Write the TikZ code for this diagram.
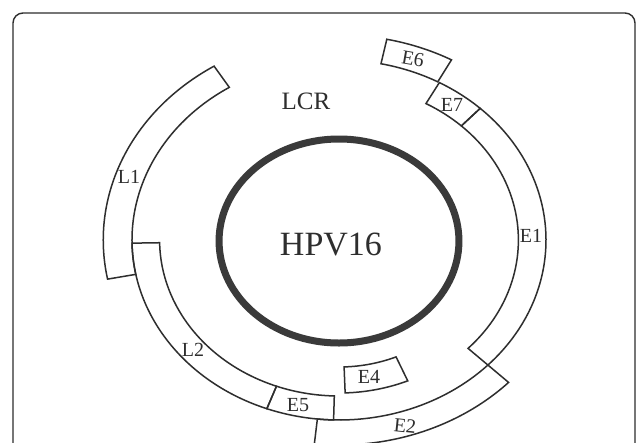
\documentclass[tikz,border=0pt]{standalone}
\usepackage{fontspec}
\setmainfont{Liberation Serif}
\definecolor{ink}{HTML}{2E2E2E}
\definecolor{ringdark}{HTML}{3A3A3A}
\newcommand\bandseg[4]{\draw[band] (#1:#3) arc[start angle=#1,end angle=#2,radius=#3] -- (#2:#4) arc[start angle=#2,end angle=#1,radius=#4] -- cycle;}
\begin{document}
\begin{tikzpicture}[x=1pt,y=1pt,
  band/.style={draw=ink,line width=1.5pt,line join=miter},
  lbl/.style={inner sep=0pt,text=ink,font=\fontsize{20}{20}\selectfont},
]
\useasboundingbox (0,0) rectangle (636,-442);
\clip (0,0) rectangle (636,-442);
\fill[white] (0,0) rectangle (636,-442);
\draw[ink,line width=1.4pt,rounded corners=10pt] (13,-13) rectangle (635,-480);
\begin{scope}[shift={(339,-240)},xscale=1.15]
  \def\rIn{156}\def\rMid{180}\def\rOut{205}
  \bandseg{122}{191}{\rMid}{\rOut}   % L1
  \bandseg{181}{249.6}{\rIn}{\rMid}  % L2
  \bandseg{249.6}{268.5}{\rIn}{\rMid}% E5
  \bandseg{264}{316}{\rMid}{\rOut}   % E2
  \bandseg{-44}{47}{\rIn}{\rMid}     % E1
  \bandseg{47}{61}{\rIn}{\rMid}      % E7
  \bandseg{61.5}{78.3}{\rMid}{\rOut} % E6
  \bandseg{272}{293}{127}{153}       % E4
  \draw[ringdark,line width=7pt] (0,-1) ellipse[x radius=104.3, y radius=102];
\end{scope}
\node[lbl,font=\fontsize{25}{25}\selectfont] (lcr) at (306,-101) {LCR};
\node[lbl,font=\fontsize{34}{34}\selectfont] (hpv) at (331,-244) {HPV16};
\node[lbl] (l1) at (129,-177) {L1};
\node[lbl] (l2) at (193,-350) {L2};
\node[lbl] (e5) at (298,-405) {E5};
\node[lbl] (e4) at (369,-377) {E4};
\node[lbl,rotate=-6] (e2) at (405,-426) {E2};
\node[lbl] (e1) at (531,-236) {E1};
\node[lbl] (e7) at (452,-105) {E7};
\node[lbl,rotate=-10] (e6) at (413,-59) {E6};
\end{tikzpicture}
\end{document}
